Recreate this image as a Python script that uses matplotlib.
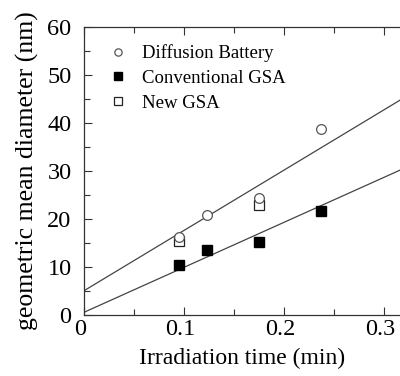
import matplotlib
matplotlib.use("Agg")
import matplotlib.pyplot as plt
import matplotlib.transforms as mtransforms
import numpy as np

plt.rcParams['font.family'] = ['Liberation Serif', 'DejaVu Serif']

# data
t_db = [0.095, 0.123, 0.175, 0.237]
d_db = [16.3, 20.7, 24.4, 38.8]
t_conv = [0.095, 0.123, 0.175, 0.237]
d_conv = [10.3, 13.4, 15.1, 21.6]
t_new = [0.095, 0.175]
d_new = [15.4, 22.9]
# fit lines: intercept, slope
fit_upper = (5.0, 126.0)
fit_lower = (0.5, 94.0)

fig = plt.figure(figsize=(4.0, 3.76), dpi=100)
ax = fig.add_axes([0.21, 0.163, 0.79, 0.765])

xlim = (0, 0.3155)
xs = np.array(xlim)
for b, m in (fit_upper, fit_lower):
    ax.plot(xs, b + m * xs, color='#444444', lw=0.9, zorder=1)

ax.plot(t_db, d_db, 'o', ms=7, mfc='white', mec='#555555', mew=0.9, ls='none',
        label='Diffusion Battery', zorder=3)
ax.plot(t_conv, d_conv, 's', ms=7.5, mfc='black', mec='black', ls='none',
        label='Conventional GSA', zorder=3)
ax.plot(t_new, d_new, 's', ms=7, mfc='white', mec='#222222', mew=0.9, ls='none',
        label='New GSA', zorder=2)

ax.set_xlim(*xlim)
ax.set_ylim(0, 60)
ax.set_xticks([0, 0.1, 0.2, 0.3])
ax.set_xticklabels(['0', '0.1', '0.2', '0.3'])
ax.set_xticks([0.05, 0.15, 0.25], minor=True)
ax.set_yticks([0, 10, 20, 30, 40, 50, 60])
ax.set_yticks([5, 15, 25, 35, 45, 55], minor=True)
ax.tick_params(which='both', direction='in', top=True, right=False, labelsize=17.5,
               color='#333333')
ax.tick_params(which='major', length=6, width=0.8)
ax.tick_params(axis='x', which='major', pad=3)
ax.tick_params(axis='y', which='major', pad=9)
ax.tick_params(which='minor', length=4, width=0.8)
ax.spines['right'].set_visible(False)
for s in ('left', 'bottom', 'top'):
    ax.spines[s].set_color('#333333')
    ax.spines[s].set_linewidth(0.9)

shift = mtransforms.ScaledTranslation(-4 / 100, 0, fig.dpi_scale_trans)
for lab in ax.get_xticklabels():
    lab.set_transform(lab.get_transform() + shift)

ax.set_xlabel('Irradiation time (min)', fontsize=17, labelpad=6)
ax.set_ylabel('geometric mean diameter (nm)', fontsize=18.5, labelpad=6)

leg = ax.legend(loc='upper left', frameon=False, fontsize=13.5, handletextpad=0.8,
                borderaxespad=0.3, labelspacing=0.4, handlelength=1.0,
                markerscale=0.75, bbox_to_anchor=(0.035, 0.985))

fig.savefig('out.png', dpi=100)
